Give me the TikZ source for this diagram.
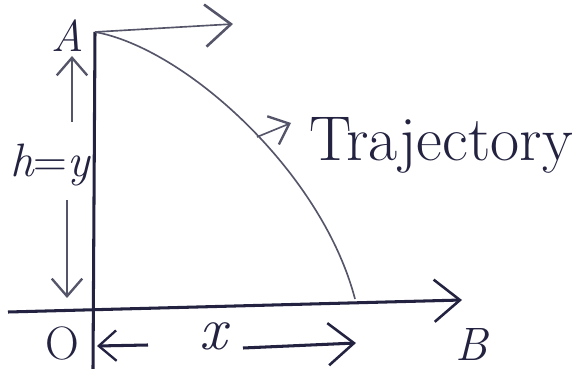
\documentclass[tikz,border=0pt]{standalone}
\usetikzlibrary{arrows.meta}
\definecolor{ink}{RGB}{35,35,65}
\definecolor{pencil}{RGB}{85,85,105}
\begin{document}
\begin{tikzpicture}[x=0.03cm,y=-0.03cm,
  axis/.style={draw=ink,line width=2.6pt},
  curve/.style={draw=pencil,line width=1.4pt},
  barb/.style={-{Straight Barb[length=22pt,width=36pt,line width=2.2pt]}},
  smallbarb/.style={-{Straight Barb[length=15pt,width=26pt,line width=2pt]}},
  lbl/.style={text=ink,inner sep=0pt},
  every node/.style={lbl}]
\useasboundingbox (0,0) rectangle (580,369);
% key points
\coordinate (A) at (95,32);
\coordinate (Abot) at (93,369);
\coordinate (Lft) at (8,312);
\coordinate (Btip) at (462,300);
\coordinate (P) at (355,299);
\coordinate (Vtip) at (233,24);
\coordinate (Ts) at (257,137);
\coordinate (Tt) at (291,123);
\coordinate (Hu1) at (72,122);
\coordinate (Hu2) at (72,56);
\coordinate (Hd1) at (67,200);
\coordinate (Hd2) at (67,298);
\coordinate (Xl1) at (148,345);
\coordinate (Xl2) at (97,346);
\coordinate (Xr1) at (243,348);
\coordinate (Xr2) at (356,343);
% axes
\draw[axis] (A) -- (Abot);
\draw[axis,barb] (Lft) -- (Btip);
% initial velocity
\draw[curve,barb] (A) -- (Vtip);
% trajectory
\draw[curve] (A) .. controls (185,48) and (322,172) .. (P);
\draw[curve,smallbarb] (Ts) -- (Tt);
% height arrows
\draw[curve,smallbarb] (Hu1) -- (Hu2);
\draw[curve,smallbarb] (Hd1) -- (Hd2);
% range arrows
\draw[axis,smallbarb] (Xl1) -- (Xl2);
\draw[axis,barb] (Xr1) -- (Xr2);
% labels
\node (lA) at (68,36) {\fontsize{38}{40}\selectfont\itshape A};
\node (lB) at (472,344) {\fontsize{40}{42}\selectfont\itshape B};
\node (lO) at (62,343) {\fontsize{40}{42}\selectfont O};
\node (lx) at (213,336) {\fontsize{52}{54}\selectfont\itshape x};
\node (lh) at (50,165) {\fontsize{40}{44}\selectfont{\itshape h}={\itshape y}};
\node (lT) at (441,145) {\fontsize{54}{58}\selectfont Trajectory};
\end{tikzpicture}
\end{document}
